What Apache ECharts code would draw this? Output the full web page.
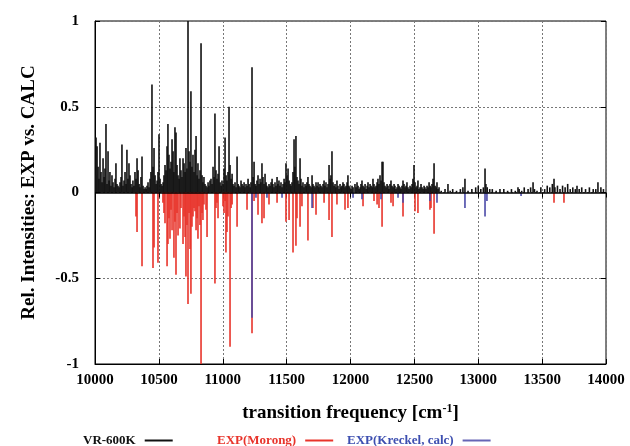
<!DOCTYPE html>
<html>
<head>
<meta charset="utf-8">
<script src="https://cdn.jsdelivr.net/npm/echarts@6/dist/echarts.min.js"></script>
<style>
  html, body { margin: 0; padding: 0; background: #fff; }
  #chart { width: 630px; height: 446px; }
</style>
</head>
<body>
<div id="chart"></div>
<script>
// stick spectra: [frequency cm-1, relative intensity]
var vrSticks = [
  [10004, 0.10], [10008, 0.32], [10016, 0.27], [10024, 0.15], [10031, 0.08], [10039, 0.29], [10047, 0.12],
  [10055, 0.06], [10063, 0.20], [10071, 0.09], [10078, 0.14], [10086, 0.40], [10094, 0.05], [10102, 0.24],
  [10110, 0.07], [10117, 0.12], [10125, 0.04], [10133, 0.10], [10141, 0.06], [10149, 0.03], [10157, 0.08],
  [10164, 0.17], [10172, 0.05], [10180, 0.04], [10188, 0.03], [10196, 0.06], [10204, 0.09], [10211, 0.28],
  [10219, 0.04], [10227, 0.07], [10235, 0.12], [10243, 0.05], [10250, 0.25], [10258, 0.08], [10266, 0.17],
  [10274, 0.10], [10282, 0.05], [10290, 0.03], [10297, 0.07], [10305, 0.04], [10313, 0.12], [10321, 0.08],
  [10329, 0.20], [10337, 0.13], [10345, 0.05], [10352, 0.03], [10360, 0.09], [10368, 0.21], [10376, 0.04],
  [10384, 0.02], [10392, 0.03], [10400, 0.02], [10407, 0.04], [10415, 0.06], [10423, 0.03], [10431, 0.08],
  [10438, 0.12], [10446, 0.63], [10454, 0.15], [10462, 0.26], [10470, 0.10], [10478, 0.05], [10486, 0.07],
  [10493, 0.12], [10501, 0.34], [10509, 0.08], [10517, 0.05], [10525, 0.04], [10533, 0.06], [10540, 0.10],
  [10548, 0.16], [10556, 0.13], [10564, 0.27], [10571, 0.40], [10579, 0.22], [10587, 0.14], [10595, 0.18],
  [10603, 0.31], [10611, 0.24], [10618, 0.12], [10626, 0.38], [10634, 0.35], [10642, 0.16], [10650, 0.10],
  [10658, 0.08], [10665, 0.20], [10673, 0.13], [10681, 0.09], [10689, 0.20], [10697, 0.17], [10705, 0.12],
  [10712, 0.26], [10720, 0.14], [10728, 1.00], [10736, 0.24], [10744, 0.18], [10751, 0.59], [10759, 0.15],
  [10767, 0.22], [10775, 0.12], [10783, 0.25], [10791, 0.33], [10799, 0.10], [10806, 0.17], [10814, 0.08],
  [10822, 0.13], [10830, 0.87], [10838, 0.10], [10845, 0.06], [10853, 0.09], [10861, 0.05], [10869, 0.04],
  [10877, 0.03], [10885, 0.06], [10892, 0.04], [10900, 0.07], [10908, 0.08], [10916, 0.05], [10924, 0.15],
  [10932, 0.09], [10939, 0.46], [10947, 0.13], [10955, 0.08], [10963, 0.11], [10971, 0.27], [10979, 0.06],
  [10987, 0.04], [10994, 0.07], [11002, 0.05], [11010, 0.14], [11018, 0.32], [11026, 0.10], [11033, 0.07],
  [11041, 0.12], [11049, 0.50], [11057, 0.16], [11065, 0.08], [11073, 0.11], [11080, 0.05], [11088, 0.04],
  [11096, 0.06], [11104, 0.03], [11112, 0.21], [11120, 0.05], [11127, 0.04], [11135, 0.03], [11143, 0.07],
  [11151, 0.05], [11159, 0.04], [11167, 0.06], [11174, 0.03], [11182, 0.05], [11190, 0.04], [11198, 0.08],
  [11206, 0.05], [11214, 0.03], [11221, 0.06], [11229, 0.73], [11237, 0.09], [11245, 0.18], [11253, 0.05],
  [11260, 0.04], [11268, 0.07], [11276, 0.10], [11284, 0.05], [11292, 0.08], [11299, 0.06], [11307, 0.17],
  [11315, 0.09], [11323, 0.05], [11331, 0.11], [11339, 0.06], [11346, 0.04], [11354, 0.03], [11362, 0.05],
  [11370, 0.04], [11378, 0.06], [11386, 0.08], [11393, 0.05], [11401, 0.03], [11409, 0.06], [11417, 0.04],
  [11425, 0.09], [11432, 0.05], [11440, 0.07], [11448, 0.04], [11456, 0.06], [11464, 0.03], [11472, 0.05],
  [11480, 0.08], [11487, 0.06], [11495, 0.17], [11503, 0.10], [11511, 0.14], [11519, 0.07], [11527, 0.05],
  [11534, 0.04], [11542, 0.06], [11550, 0.12], [11558, 0.31], [11565, 0.15], [11573, 0.33], [11581, 0.09],
  [11589, 0.07], [11597, 0.05], [11605, 0.20], [11612, 0.08], [11620, 0.04], [11628, 0.06], [11636, 0.03],
  [11644, 0.05], [11652, 0.04], [11659, 0.06], [11667, 0.09], [11675, 0.05], [11683, 0.04], [11691, 0.03],
  [11699, 0.10], [11706, 0.05], [11714, 0.04], [11722, 0.03], [11730, 0.06], [11738, 0.04], [11746, 0.06],
  [11753, 0.03], [11761, 0.05], [11769, 0.04], [11777, 0.03], [11785, 0.05], [11793, 0.07], [11800, 0.04],
  [11808, 0.06], [11816, 0.03], [11824, 0.05], [11832, 0.16], [11840, 0.08], [11847, 0.10], [11855, 0.24],
  [11863, 0.06], [11871, 0.04], [11879, 0.05], [11886, 0.03], [11894, 0.07], [11902, 0.04], [11910, 0.02],
  [11918, 0.05], [11926, 0.03], [11933, 0.04], [11941, 0.06], [11949, 0.05], [11957, 0.03], [11965, 0.04],
  [11973, 0.06], [11980, 0.10], [11988, 0.04], [11996, 0.03], [12004, 0.02], [12012, 0.04], [12020, 0.03],
  [12035, 0.05], [12043, 0.03], [12051, 0.06], [12059, 0.04], [12067, 0.02], [12075, 0.03], [12082, 0.05],
  [12090, 0.07], [12098, 0.04], [12106, 0.03], [12114, 0.05], [12122, 0.02], [12130, 0.04], [12137, 0.06],
  [12145, 0.03], [12153, 0.05], [12161, 0.04], [12169, 0.03], [12176, 0.08], [12184, 0.05], [12192, 0.03],
  [12200, 0.04], [12208, 0.06], [12215, 0.08], [12223, 0.05], [12231, 0.10], [12239, 0.07], [12247, 0.18],
  [12254, 0.18], [12262, 0.06], [12270, 0.04], [12278, 0.03], [12286, 0.05], [12294, 0.04], [12301, 0.02],
  [12309, 0.05], [12317, 0.07], [12325, 0.04], [12333, 0.03], [12341, 0.05], [12348, 0.04], [12356, 0.02],
  [12364, 0.03], [12372, 0.05], [12380, 0.04], [12388, 0.03], [12395, 0.02], [12403, 0.04], [12411, 0.07],
  [12419, 0.05], [12427, 0.03], [12435, 0.04], [12442, 0.06], [12450, 0.03], [12458, 0.02], [12466, 0.04],
  [12474, 0.03], [12482, 0.05], [12489, 0.08], [12497, 0.16], [12505, 0.06], [12513, 0.03], [12521, 0.04],
  [12528, 0.07], [12536, 0.02], [12544, 0.03], [12552, 0.05], [12560, 0.03], [12568, 0.02], [12576, 0.04],
  [12583, 0.03], [12591, 0.02], [12599, 0.04], [12607, 0.03], [12615, 0.06], [12623, 0.04], [12630, 0.03],
  [12638, 0.05], [12646, 0.08], [12654, 0.17], [12662, 0.04], [12670, 0.03], [12677, 0.06], [12685, 0.02],
  [12693, 0.03], [12710, 0.01], [12740, 0.02], [12763, 0.05], [12780, 0.01], [12800, 0.02], [12830, 0.01],
  [12860, 0.02], [12880, 0.03], [12896, 0.08], [12920, 0.01], [12950, 0.02], [12980, 0.03], [13000, 0.04],
  [13020, 0.02], [13040, 0.03], [13053, 0.14], [13060, 0.05], [13070, 0.03], [13090, 0.02], [13110, 0.02],
  [13140, 0.01], [13170, 0.02], [13200, 0.02], [13230, 0.01], [13260, 0.02], [13290, 0.01], [13311, 0.03],
  [13320, 0.02], [13340, 0.01], [13360, 0.03], [13390, 0.02], [13410, 0.03], [13429, 0.06], [13440, 0.02],
  [13460, 0.01], [13490, 0.03], [13520, 0.02], [13540, 0.04], [13560, 0.03], [13580, 0.05], [13593, 0.08],
  [13600, 0.03], [13620, 0.04], [13640, 0.02], [13660, 0.04], [13680, 0.03], [13700, 0.05], [13720, 0.02],
  [13740, 0.03], [13760, 0.02], [13773, 0.04], [13790, 0.02], [13810, 0.03], [13840, 0.02], [13870, 0.03],
  [13900, 0.02], [13920, 0.02], [13937, 0.06], [13960, 0.03], [13980, 0.02]
];

var morongSticks = [
  [10321, -0.14], [10329, -0.23], [10368, -0.43], [10454, -0.44], [10462, -0.32], [10493, -0.41],
  [10532, -0.06], [10540, -0.12], [10548, -0.18], [10564, -0.43], [10571, -0.30], [10579, -0.15],
  [10587, -0.27], [10595, -0.10], [10603, -0.22], [10618, -0.38], [10626, -0.17], [10634, -0.48],
  [10642, -0.12], [10650, -0.25], [10665, -0.21], [10673, -0.09], [10689, -0.30], [10697, -0.14],
  [10705, -0.26], [10712, -0.49], [10720, -0.19], [10728, -0.65], [10736, -0.12], [10744, -0.33],
  [10751, -0.59], [10759, -0.20], [10767, -0.14], [10775, -0.09], [10783, -0.11], [10791, -0.22],
  [10799, -0.15], [10806, -0.27], [10814, -0.08], [10822, -0.19], [10830, -1.00], [10838, -0.12],
  [10845, -0.16], [10853, -0.07], [10869, -0.10], [10877, -0.26], [10939, -0.53], [10947, -0.09],
  [10955, -0.06], [10963, -0.15], [11002, -0.08], [11010, -0.12], [11018, -0.05], [11025, -0.35],
  [11033, -0.23], [11041, -0.14], [11057, -0.90], [11065, -0.09], [11073, -0.07], [11112, -0.20],
  [11190, -0.10], [11229, -0.82], [11245, -0.05], [11276, -0.13], [11307, -0.18], [11323, -0.15],
  [11362, -0.07], [11425, -0.06], [11495, -0.17], [11519, -0.16], [11550, -0.35], [11573, -0.31],
  [11581, -0.15], [11605, -0.20], [11620, -0.08], [11667, -0.28], [11706, -0.09], [11730, -0.13],
  [11793, -0.06], [11832, -0.16], [11855, -0.26], [11894, -0.07], [11957, -0.10], [11980, -0.09],
  [12098, -0.08], [12184, -0.05], [12208, -0.07], [12223, -0.09], [12247, -0.20], [12317, -0.06],
  [12333, -0.08], [12411, -0.14], [12505, -0.11], [12528, -0.12], [12622, -0.10], [12630, -0.09],
  [12654, -0.24], [13593, -0.06], [13671, -0.06]
];

var kreckelSticks = [
  [11229, -0.73], [11260, -0.03], [11346, -0.03], [11464, -0.03], [11699, -0.09], [12020, -0.03],
  [12090, -0.04], [12239, -0.04], [12372, -0.03], [12411, -0.06], [12622, -0.05], [12677, -0.06],
  [12896, -0.09], [13053, -0.14], [13068, -0.05], [13335, -0.02]
];

var seriesNames = ['VR-600K', 'EXP(Morong)', 'EXP(Kreckel, calc)'];
var seriesColors = ['#111111', '#e8342b', '#4b4aa8'];
var textColors = ['#111111', '#e8342b', '#3d4fb0'];
var xTicks = { min: 10000, max: 14000, interval: 500 };
var yTicks = { min: -1, max: 1, interval: 0.5 };

var FONT = 'Liberation Serif';

function renderStick(params, api) {
  var p0 = api.coord([api.value(0), 0]);
  var p1 = api.coord([api.value(0), api.value(1)]);
  return {
    type: 'line',
    shape: { x1: p0[0], y1: p0[1], x2: p0[0], y2: p1[1] },
    style: { stroke: api.visual('color'), lineWidth: 1.6 }
  };
}

var chart = echarts.init(document.getElementById('chart'));

var allData = [vrSticks, morongSticks, kreckelSticks];
var series = seriesNames.map(function (name, i) {
  var s = {
    name: name,
    type: 'custom',
    renderItem: renderStick,
    data: allData[i],
    encode: { x: 0, y: 1 },
    clip: true,
    itemStyle: { color: seriesColors[i], opacity: i === 2 ? 0.85 : 1 },
    z: 2 + i,
    animation: false
  };
  if (i === 0) {
    s.markLine = {
      silent: true,
      symbol: 'none',
      label: { show: false },
      lineStyle: { color: '#000', width: 1.5, type: 'solid' },
      data: [{ yAxis: 0 }]
    };
  }
  return s;
});

var legendLeft = [78, 212, 342];
var legends = seriesNames.map(function (name, i) {
  return {
    data: [name],
    left: legendLeft[i],
    top: 429,
    align: 'right',
    icon: 'rect',
    itemWidth: 28,
    itemHeight: 2,
    itemGap: 0,
    selectedMode: false,
    textStyle: { color: textColors[i], fontFamily: FONT, fontWeight: 'bold', fontSize: 13, padding: [0, 4, 0, 0] }
  };
});

var axisLabelStyle = { color: '#000', fontFamily: FONT, fontWeight: 'bold', fontSize: 15 };

var option = {
  animation: false,
  backgroundColor: '#fff',
  grid: { left: 95, right: 24, top: 21, bottom: 82, show: true, borderColor: '#000', borderWidth: 1 },
  legend: legends,
  xAxis: [{
    type: 'value',
    min: xTicks.min, max: xTicks.max, interval: xTicks.interval,
    name: 'transition frequency [cm{sup|-1}]',
    nameLocation: 'middle',
    nameGap: 39,
    nameTextStyle: {
      color: '#000', fontFamily: FONT, fontWeight: 'bold', fontSize: 19,
      rich: { sup: { fontFamily: FONT, fontWeight: 'bold', fontSize: 12, verticalAlign: 'top', padding: [0, 0, 8, 0] } }
    },
    axisLine: { onZero: false, lineStyle: { color: '#000' } },
    axisTick: { inside: true, length: 5, lineStyle: { color: '#000' } },
    axisLabel: Object.assign({ margin: 9, formatter: function (v) { return String(v); } }, axisLabelStyle),
    splitLine: { show: true, lineStyle: { color: '#777', type: [2, 2], width: 1 } }
  }, {
    type: 'value', position: 'top',
    min: xTicks.min, max: xTicks.max, interval: xTicks.interval,
    axisLine: { show: false },
    axisTick: { inside: true, length: 5, lineStyle: { color: '#000' } },
    axisLabel: { show: false },
    splitLine: { show: false }
  }],
  yAxis: [{
    type: 'value',
    min: yTicks.min, max: yTicks.max, interval: yTicks.interval,
    name: 'Rel. Intensities: EXP vs. CALC',
    nameLocation: 'middle',
    nameGap: 56,
    nameTextStyle: { color: '#000', fontFamily: FONT, fontWeight: 'bold', fontSize: 19 },
    axisLine: { lineStyle: { color: '#000' } },
    axisTick: { inside: true, length: 5, lineStyle: { color: '#000' } },
    axisLabel: Object.assign({ margin: 16 }, axisLabelStyle),
    splitLine: { show: true, lineStyle: { color: '#777', type: [2, 2], width: 1 } }
  }, {
    type: 'value', position: 'right',
    min: yTicks.min, max: yTicks.max, interval: yTicks.interval,
    axisLine: { show: false },
    axisTick: { inside: true, length: 5, lineStyle: { color: '#000' } },
    axisLabel: { show: false },
    splitLine: { show: false }
  }],
  series: series
};

chart.setOption(option);
</script>
</body>
</html>
